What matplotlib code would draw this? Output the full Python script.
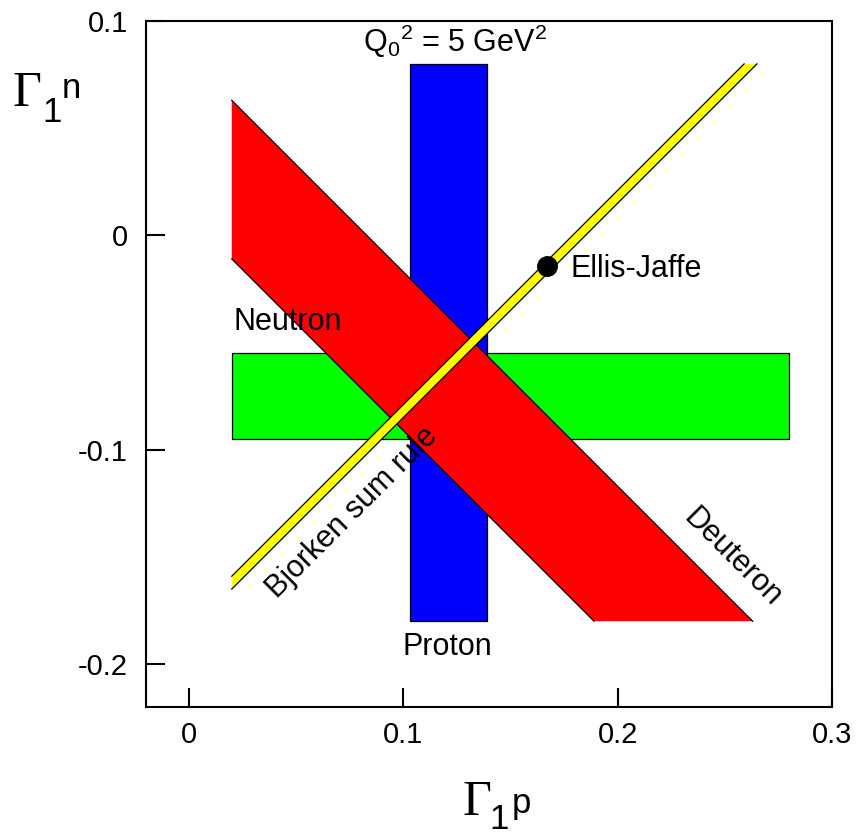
import numpy as np
import matplotlib
matplotlib.use("Agg")
from matplotlib import pyplot as plt

plt.rcParams["font.family"] = ["Liberation Sans", "DejaVu Sans"]
plt.rcParams["mathtext.fontset"] = "custom"
plt.rcParams["mathtext.rm"] = "Liberation Sans"
plt.rcParams["mathtext.it"] = "Liberation Sans"

# constraint bands (Gamma_1^p on x, Gamma_1^n on y)
x_range = [0.02, 0.28]          # horizontal extent of the bands
y_range = [-0.18, 0.08]         # vertical extent of the bands
proton = [0.103, 0.139]         # Gamma_1^p band
neutron = [-0.095, -0.055]      # Gamma_1^n band
deuteron_sum = [0.009, 0.083]   # Gamma_1^p + Gamma_1^n band
bjorken_diff = [0.179, 0.185]   # Gamma_1^p - Gamma_1^n band
ellis_jaffe = [0.167, -0.0143]  # point on the Bjorken line

xlim = [-0.02, 0.3]
ylim = [-0.22, 0.1]
xticks = [0, 0.1, 0.2, 0.3]
xtick_labels = ["0", "0.1", "0.2", "0.3"]
yticks = [-0.2, -0.1, 0, 0.1]
ytick_labels = ["-0.2", "-0.1", "0", "0.1"]

W, H = 856, 838
fig = plt.figure(figsize=(W / 100, H / 100), dpi=100)
ax = fig.add_axes([146 / W, 1 - 707 / H, 686 / W, 686 / H])
ax.set_xlim(xlim)
ax.set_ylim(ylim)

edge = dict(color="black", linewidth=0.9)

# neutron (green)
ax.fill_between(x_range, neutron[0], neutron[1], facecolor="#00ff00",
                edgecolor="black", linewidth=0.9, zorder=1)

# proton (blue)
ax.fill_betweenx(y_range, proton[0], proton[1], facecolor="#0000ff",
                 edgecolor="black", linewidth=0.9, zorder=2)

# deuteron (red), diagonal band
x0, yb = x_range[0], y_range[0]
red_x = [x0, deuteron_sum[1] - yb, deuteron_sum[0] - yb, x0]
red_y = [deuteron_sum[1] - x0, yb, yb, deuteron_sum[0] - x0]
ax.fill(red_x, red_y, facecolor="#ff0000", edgecolor="none", zorder=3)
for s in deuteron_sum:
    ax.plot([x0, s - yb], [s - x0, yb], zorder=3.5, **edge)

# Bjorken sum rule (yellow)
yt = y_range[1]
yel_x = [x0, x0, yt + bjorken_diff[0], yt + bjorken_diff[1]]
yel_y = [x0 - bjorken_diff[1], x0 - bjorken_diff[0], yt, yt]
ax.fill(yel_x, yel_y, facecolor="#ffff00", edgecolor="none", zorder=4)
for d in bjorken_diff:
    ax.plot([x0, yt + d], [x0 - d, yt], zorder=4.5, **edge)

ax.plot(ellis_jaffe[0], ellis_jaffe[1], "o", color="black", markersize=14,
        zorder=5)

# labels inside the plot
fs = 22
ax.text(0.0206, -0.0441, "Neutron", fontsize=fs, zorder=6)
ax.text(0.1204, -0.1957, "Proton", fontsize=fs, ha="center")
ax.text(0.1778, -0.0194, "Ellis-Jaffe", fontsize=fs)
ax.text(0.0812, 0.0855, r"Q$_0{}^2$ = 5 GeV$^2$", fontsize=fs)
ax.text(0.2538, -0.1505, "Deuteron", fontsize=fs, rotation=-45,
        rotation_mode="anchor", ha="center", va="center")
ax.text(0.0761, -0.1295, "Bjorken sum rule", fontsize=fs, rotation=45,
        rotation_mode="anchor", ha="center", va="center", zorder=6)

# axes styling
for sp in ax.spines.values():
    sp.set_linewidth(1.5)
ax.set_xticks(xticks)
ax.set_xticklabels(xtick_labels)
ax.set_yticks(yticks)
ax.set_yticklabels(ytick_labels)
ax.tick_params(direction="in", length=13.5, width=1.5, labelsize=21,
               top=False, right=False)
ax.tick_params(axis="y", pad=13)
ax.tick_params(axis="x", pad=10)


def px(x, y):
    return x / W, 1 - y / H


serif = ["Liberation Serif", "DejaVu Serif"]
# y axis label: Gamma_1^n
fig.text(*px(12, 106), "\u0393", fontsize=36, family=serif, va="baseline")
fig.text(*px(42, 122), "1", fontsize=25, va="baseline")
fig.text(*px(62, 98), "n", fontsize=25, va="baseline")
# x axis label: Gamma_1^p
fig.text(*px(462, 815), "\u0393", fontsize=36, family=serif, va="baseline")
fig.text(*px(489, 829), "1", fontsize=25, va="baseline")
fig.text(*px(512, 813), "p", fontsize=25, va="baseline")

fig.savefig("out.png", dpi=100)
